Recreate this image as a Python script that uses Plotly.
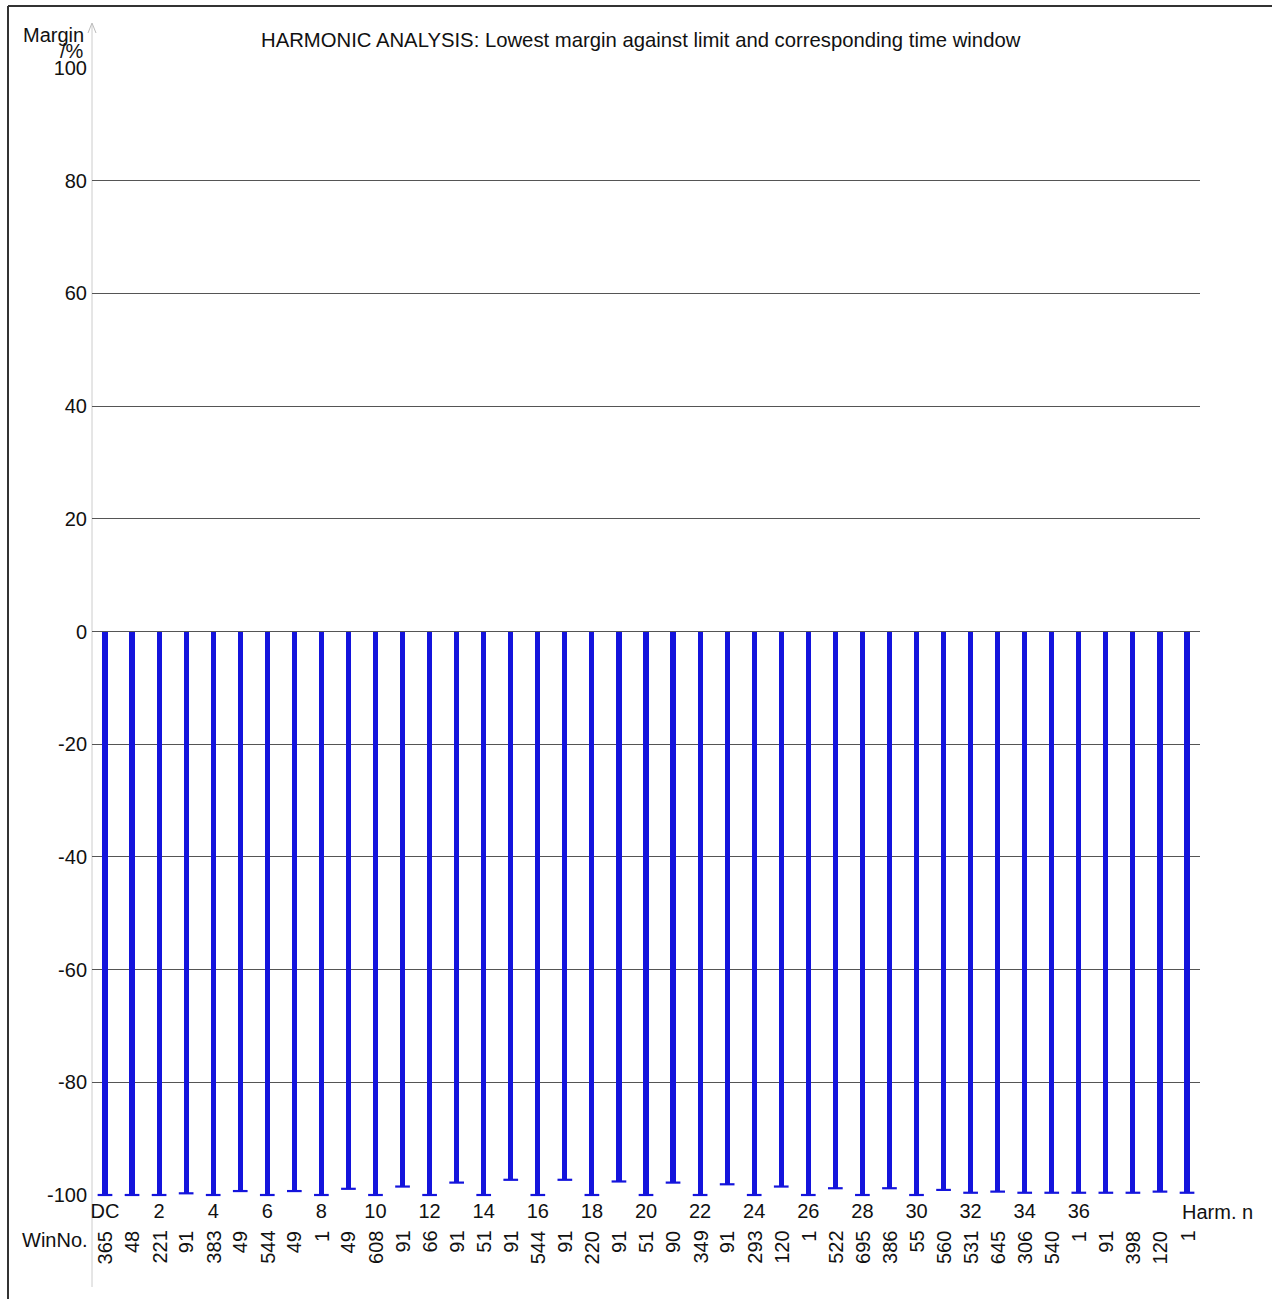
import plotly.graph_objects as go

# ---------------- data ----------------
harmonic_order = [0, 1, 2, 3, 4, 5, 6, 7, 8, 9, 10, 11, 12, 13, 14, 15, 16, 17, 18, 19, 20,
                  21, 22, 23, 24, 25, 26, 27, 28, 29, 30, 31, 32, 33, 34, 35, 36, 37, 38, 39, 40]
lowest_margin = [-100, -100, -100, -99.7, -100, -99.3, -100, -99.3, -100, -98.9, -100,
                 -98.5, -100, -97.8, -100, -97.3, -100, -97.3, -100, -97.6, -100,
                 -97.8, -100, -98.1, -100, -98.5, -100, -98.8, -100, -98.8, -100,
                 -99.1, -99.6, -99.4, -99.6, -99.6, -99.6, -99.6, -99.6, -99.4, -99.6]
win_no = [365, 48, 221, 91, 383, 49, 544, 49, 1, 49, 608, 91, 66, 91, 51, 91, 544, 91, 220,
          91, 51, 90, 349, 91, 293, 120, 1, 522, 695, 386, 55, 560, 531, 645, 306, 540, 1,
          91, 398, 120, 1]
harm_tick_vals = [0, 2, 4, 6, 8, 10, 12, 14, 16, 18, 20, 22, 24, 26, 28, 30, 32, 34, 36]
harm_tick_text = ["DC", "2", "4", "6", "8", "10", "12", "14", "16", "18", "20", "22", "24",
                  "26", "28", "30", "32", "34", "36"]
y_tick_vals = [-100, -80, -60, -40, -20, 0, 20, 40, 60, 80, 100]
y_tick_text = ["-100", "-80", "-60", "-40", "-20", "0", "20", "40", "60", "80", "100"]

title_text = "HARMONIC ANALYSIS: Lowest margin against limit and corresponding time window"

# ---------------- layout constants ----------------
W, H = 1272, 1299
L, R, T, B = 92, 72, 68, 104
PW, PH = W - L - R, H - T - B
FONT = "Liberation Sans, Arial, sans-serif"
FS = 20
BLUE = "#1414dc"


def px_x(p):
    return (p - L) / PW


def px_y(p):
    return (H - B - p) / PH


fig = go.Figure()
fig.add_trace(go.Bar(
    x=harmonic_order, y=lowest_margin, width=0.19,
    marker=dict(color=BLUE, line=dict(width=0)), hoverinfo="x+y",
))
fig.add_trace(go.Scatter(
    x=harmonic_order, y=lowest_margin, mode="markers", cliponaxis=False,
    marker=dict(symbol="line-ew", size=10.5, line=dict(color=BLUE, width=2.2)),
    hoverinfo="skip",
))

annotations = []
for h, w in zip(harmonic_order, win_no):
    annotations.append(dict(
        x=h, xref="x", y=0, yref="paper", yshift=-34, text=str(w), textangle=-90,
        xanchor="center", yanchor="top", showarrow=False,
        font=dict(family=FONT, size=FS, color="#111"),
    ))
annotations += [
    dict(x=px_x(90), xref="paper", y=px_y(1240), yref="paper", text="WinNo.",
         xanchor="right", yanchor="middle", showarrow=False,
         font=dict(family=FONT, size=FS, color="#111")),
    dict(x=px_x(1180), xref="paper", y=px_y(1212), yref="paper", text="Harm. n",
         xanchor="left", yanchor="middle", showarrow=False,
         font=dict(family=FONT, size=FS, color="#111")),
    dict(x=px_x(86), xref="paper", y=px_y(35), yref="paper", text="Margin",
         xanchor="right", yanchor="middle", showarrow=False,
         font=dict(family=FONT, size=FS, color="#111")),
    dict(x=px_x(86), xref="paper", y=px_y(51), yref="paper", text="/%",
         xanchor="right", yanchor="middle", showarrow=False,
         font=dict(family=FONT, size=FS, color="#111")),
    dict(x=px_x(640.5), xref="paper", y=px_y(40), yref="paper", text=title_text,
         xanchor="center", yanchor="middle", showarrow=False,
         font=dict(family=FONT, size=20.3, color="#111")),
]

shapes = [
    # outer frame (top & left visible)
    dict(type="line", xref="paper", yref="paper", x0=px_x(8), x1=px_x(W + 20),
         y0=px_y(6), y1=px_y(6), line=dict(color="#333", width=2)),
    dict(type="line", xref="paper", yref="paper", x0=px_x(8), x1=px_x(8),
         y0=px_y(6), y1=px_y(H + 20), line=dict(color="#333", width=2)),
    # light grey y-axis line with arrow tip
    dict(type="line", xref="paper", yref="paper", x0=0, x1=0,
         y0=px_y(24), y1=px_y(1287), line=dict(color="#cccccc", width=1), layer="below"),
    dict(type="path", xref="paper", yref="paper",
         path=f"M {px_x(88)},{px_y(33)} L {px_x(92)},{px_y(23)} L {px_x(96)},{px_y(33)}",
         line=dict(color="#bbbbbb", width=1)),
]

fig.update_layout(
    width=W, height=H,
    margin=dict(l=L, r=R, t=T, b=B, pad=0),
    paper_bgcolor="white", plot_bgcolor="white",
    showlegend=False, bargap=0,
    font=dict(family=FONT, size=FS, color="#111"),
    annotations=annotations, shapes=shapes,
)
fig.update_xaxes(
    range=[-0.48, 40.48], tickmode="array", tickvals=harm_tick_vals, ticktext=harm_tick_text,
    showgrid=False, zeroline=False, showline=False, ticks="", ticklabelstandoff=2,
    tickfont=dict(family=FONT, size=FS, color="#111"),
)
fig.update_yaxes(
    range=[-100, 100], tickmode="array", tickvals=y_tick_vals, ticktext=y_tick_text,
    showgrid=True, gridcolor="#555555", gridwidth=1,
    zeroline=True, zerolinecolor="#555555", zerolinewidth=1,
    showline=False, ticks="", ticklabelstandoff=4,
    tickfont=dict(family=FONT, size=FS, color="#111"),
)

fig.write_html("out.html", config={"displayModeBar": False},
               post_script="document.body.style.margin='0';")
